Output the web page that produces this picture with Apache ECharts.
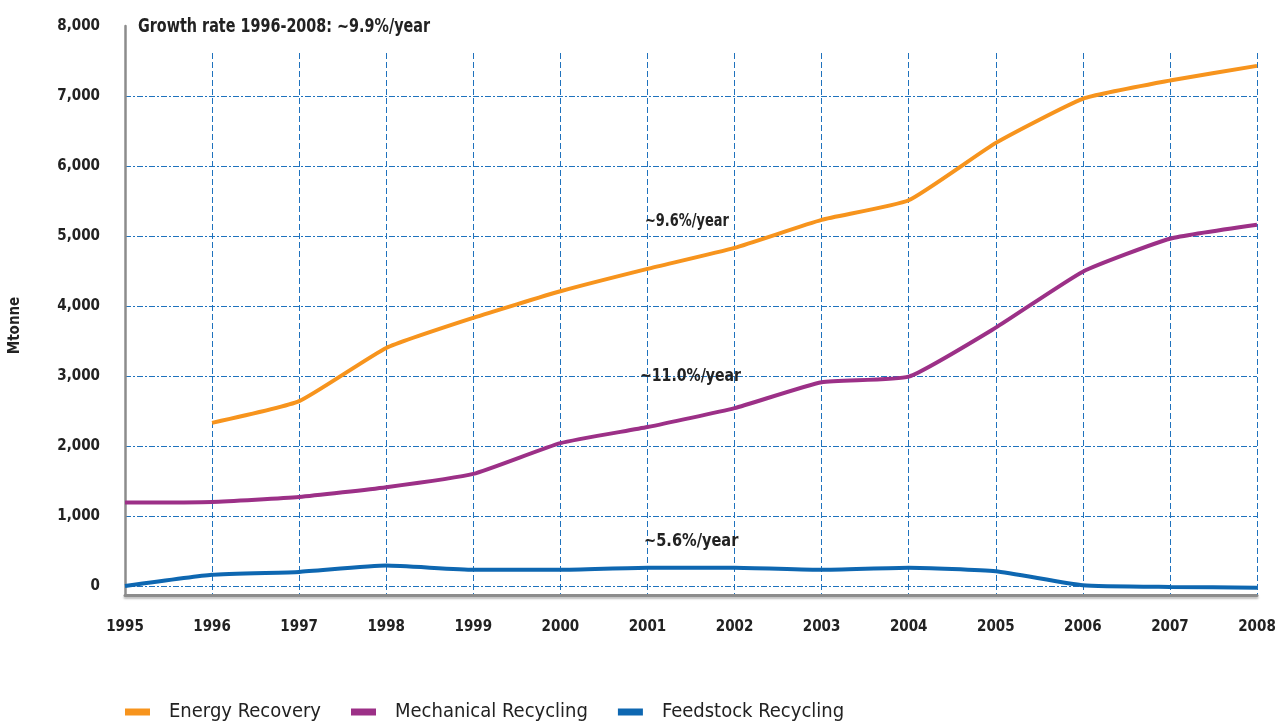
<!DOCTYPE html>
<html>
<head>
<meta charset="utf-8">
<script src="https://cdn.jsdelivr.net/npm/echarts@6/dist/echarts.min.js"></script>
<style>
  html, body { margin: 0; padding: 0; background: #fff; }
  #chart { width: 1280px; height: 727px; }
</style>
</head>
<body>
<div id="chart"></div>
<script>
const years = ['1995', '1996', '1997', '1998', '1999', '2000', '2001', '2002', '2003', '2004', '2005', '2006', '2007', '2008'];
const energyRecovery = [null, 2330, 2640, 3400, 3830, 4210, 4530, 4830, 5230, 5510, 6330, 6960, 7220, 7430];
const mechanicalRecycling = [1190, 1200, 1270, 1410, 1600, 2040, 2270, 2540, 2910, 2990, 3690, 4490, 4960, 5160];
const feedstockRecycling = [0, 160, 200, 290, 230, 230, 260, 260, 230, 260, 210, 10, -15, -25];
const growthLabels = ['~9.6%/year', '~11.0%/year', '~5.6%/year'];
const titleText = 'Growth rate 1996-2008: ~9.9%/year';

const font = '"Liberation Sans Narrow", "DejaVu Sans Condensed", sans-serif';
const chart = echarts.init(document.getElementById('chart'));

function fmt(v) {
  if (v < 0) return '';
  return v.toString().replace(/\B(?=(\d{3})+(?!\d))/g, ',');
}

// narrow bold text placed on the plot
function note(text, x, y, size, sx) {
  return {
    type: 'text', z: 11, x: x, y: y, scaleX: sx,
    style: { text: text, fontFamily: font, fontSize: size, fontWeight: 'bold', fill: '#222', verticalAlign: 'middle' }
  };
}

chart.setOption({
  backgroundColor: '#fff',
  animation: false,
  grid: { left: 122, right: 23, top: 26, bottom: 132 },
  legend: {
    left: 120,
    top: 697,
    icon: 'rect',
    itemWidth: 25,
    itemHeight: 7,
    itemGap: 30,
    textStyle: { fontFamily: font, fontSize: 20, color: '#222', padding: [0, 0, 0, 14] },
    data: ['Energy Recovery', 'Mechanical Recycling', 'Feedstock Recycling']
  },
  xAxis: {
    type: 'category',
    data: years,
    boundaryGap: false,
    axisLine: { onZero: false, lineStyle: { color: '#8c8c8c', width: 3, shadowColor: 'rgba(0,0,0,0.25)', shadowOffsetY: 2, shadowBlur: 2 } },
    axisTick: { show: false },
    axisLabel: { margin: 25, fontFamily: font, fontSize: 15, fontWeight: 'bold', color: '#222' },
    splitLine: { show: true, lineStyle: { color: '#1f72bd', width: 1, type: [6, 3] } }
  },
  yAxis: {
    type: 'value',
    min: -130,
    max: 8000,
    splitNumber: 8,
    minInterval: 1000,
    maxInterval: 1000,
    name: 'Mtonne',
    nameLocation: 'middle',
    nameRotate: 90,
    nameGap: 102,
    nameTextStyle: { fontFamily: font, fontSize: 15, fontWeight: 'bold', color: '#222', padding: [0, 30, 0, 0] },
    axisLine: { show: true, lineStyle: { color: '#8c8c8c', width: 2.5 } },
    axisTick: { show: false },
    axisLabel: { margin: 25, fontFamily: font, fontSize: 15, fontWeight: 'bold', color: '#222', formatter: fmt },
    splitLine: { show: true, showMinLine: false, showMaxLine: false, lineStyle: { color: '#1f72bd', width: 1, type: [6, 2, 2, 2] } }
  },
  graphic: [
    { type: 'rect', z: 10, shape: { x: 127, y: 18, width: 1150, height: 33 }, style: { fill: '#fff' } },
    note(titleText, 138, 27, 19, 0.84),
    note(growthLabels[0], 645, 221, 18, 0.8),
    note(growthLabels[1], 640, 376, 18, 0.87),
    note(growthLabels[2], 644, 541, 18, 0.9)
  ],
  series: [
    {
      name: 'Energy Recovery',
      type: 'line',
      data: energyRecovery,
      smooth: 0.15,
      showSymbol: false,
      lineStyle: { color: '#f7941d', width: 4 },
      itemStyle: { color: '#f7941d' }
    },
    {
      name: 'Mechanical Recycling',
      type: 'line',
      data: mechanicalRecycling,
      smooth: 0.15,
      showSymbol: false,
      lineStyle: { color: '#9c3087', width: 4 },
      itemStyle: { color: '#9c3087' }
    },
    {
      name: 'Feedstock Recycling',
      type: 'line',
      data: feedstockRecycling,
      smooth: 0.15,
      showSymbol: false,
      lineStyle: { color: '#0e67b1', width: 4 },
      itemStyle: { color: '#0e67b1' }
    }
  ]
});
</script>
</body>
</html>
